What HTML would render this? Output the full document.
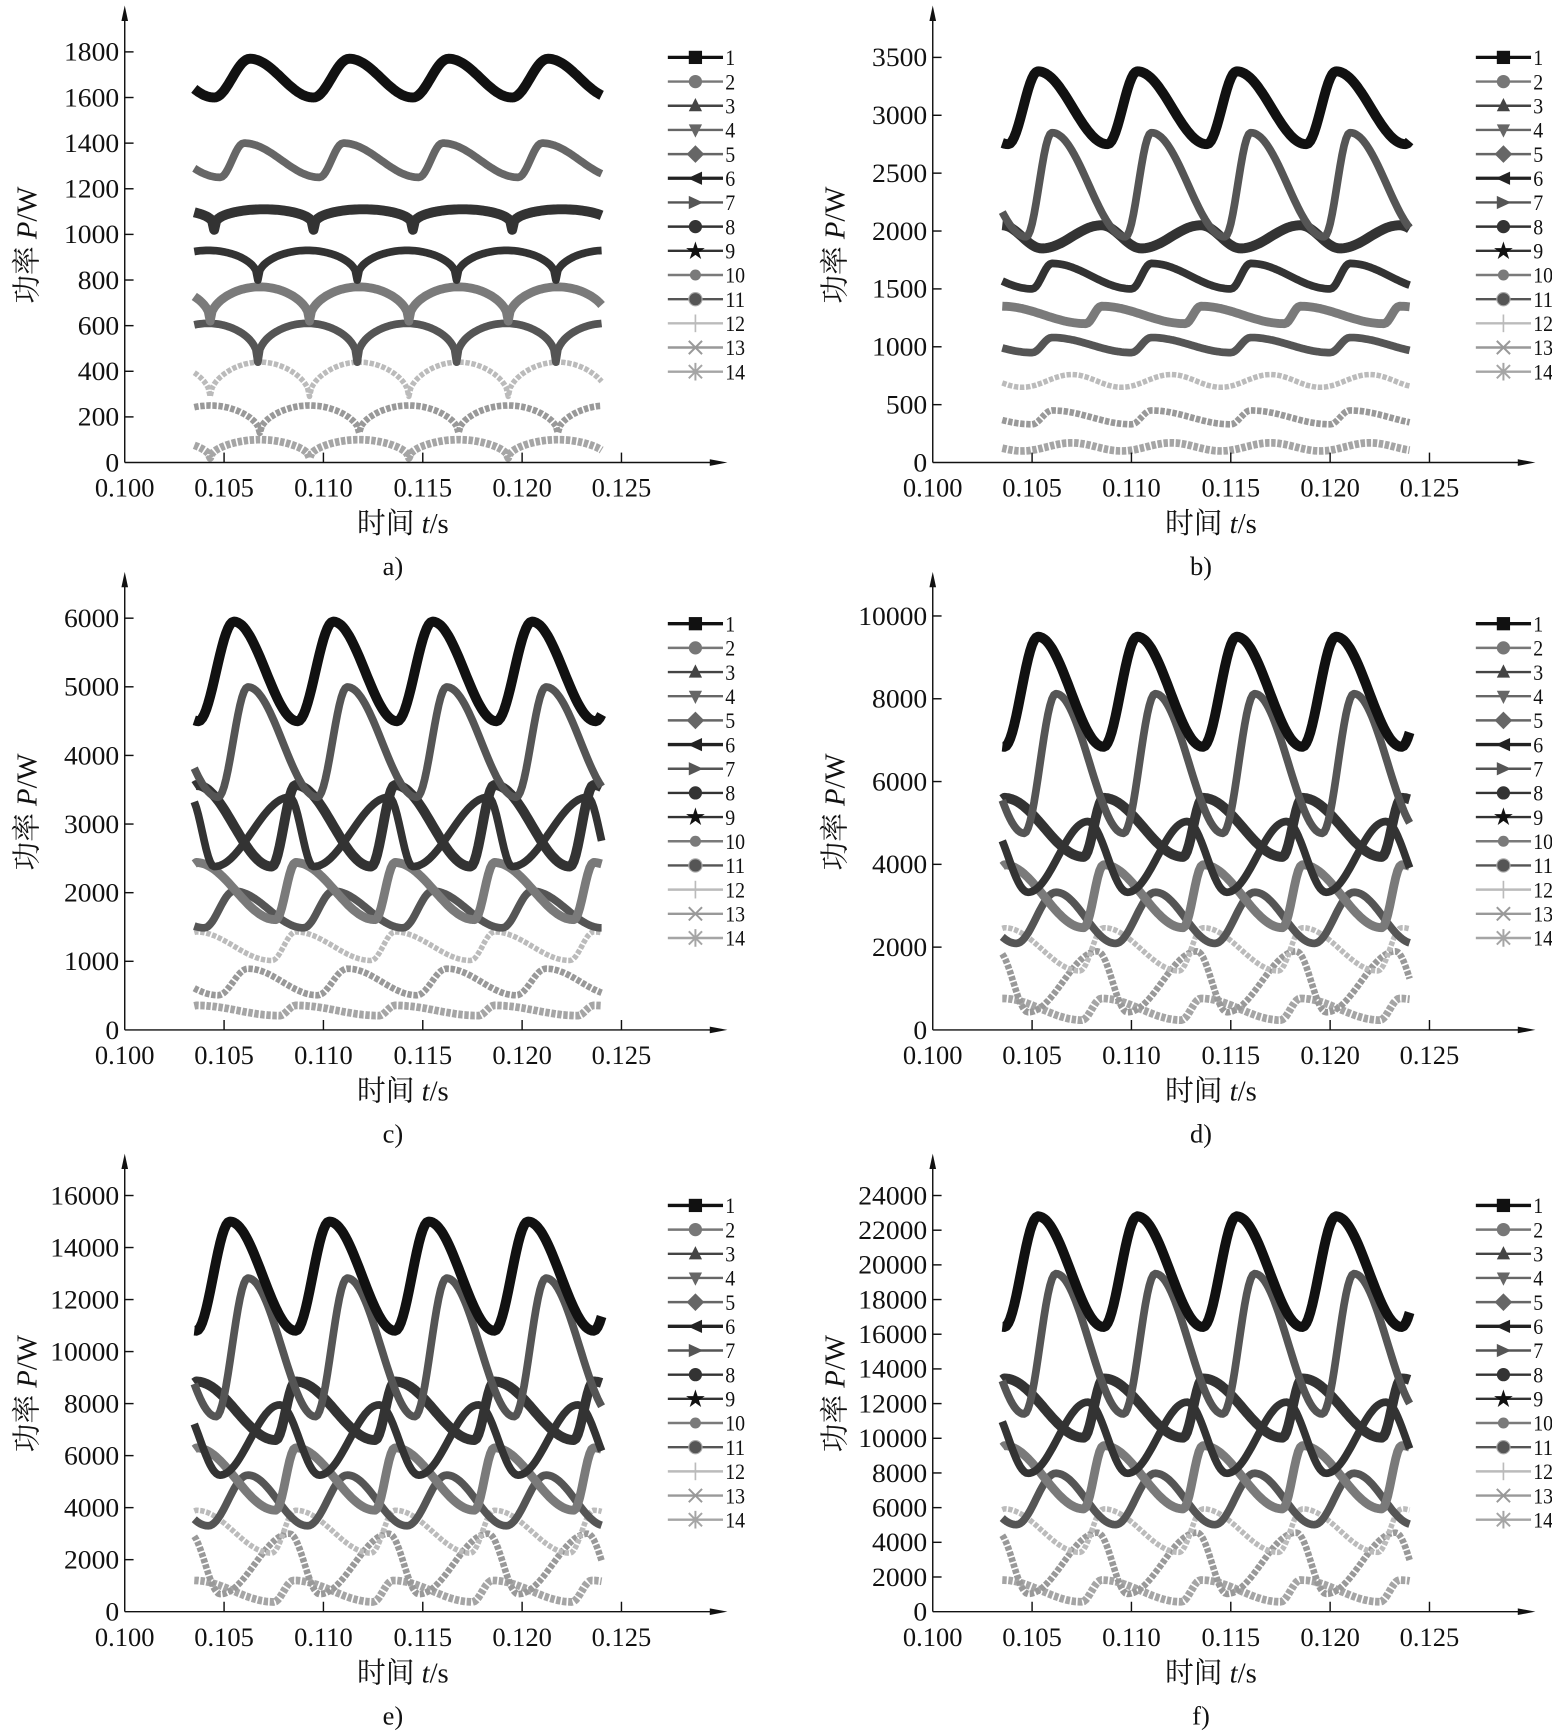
<!DOCTYPE html>
<html><head><meta charset="utf-8"><style>
html,body{margin:0;padding:0;background:#fff}
svg{display:block}
text{font-family:"Liberation Serif","Noto Serif CJK SC",serif;fill:#111}
</style></head><body>
<svg id="s" xmlns="http://www.w3.org/2000/svg" width="1552" height="1732" viewBox="0 0 1406 1569" preserveAspectRatio="none"></svg>
<script>
const S=document.getElementById('s');const NS='http://www.w3.org/2000/svg';
function el(tag,attrs,txt){const e=document.createElementNS(NS,tag);for(const k in attrs)e.setAttribute(k,attrs[k]);if(txt!==undefined)e.textContent=txt;S.appendChild(e);return e;}
const P=0.005;
function md(a,b){return ((a%b)+b)%b;}
function saw(t,s){const d=md(t-s.pk,P);const D=P-s.R;let f;
 if(d<D){f=(Math.cos(Math.PI*d/D)+1)/2;}else{const u=(d-D)/s.R;f=(1-Math.cos(Math.PI*u))/2;}
 return s.lo+(s.hi-s.lo)*f;}
function cusp(t,s){const ph=md(t-s.pk,P)/P;return s.lo+(s.hi-s.lo)*Math.pow(Math.sin(Math.PI*ph),s.e);}
const COL=['#111','#777','#444','#666','#666','#222','#555','#333','#333','#7a7a7a','#555','#bbb','#999','#a5a5a5'];
const WID=[9,7,7,7,7,8,7,9,7,8,7,5,6,7];
const idxMap={1:0,4:3,7:6,8:7,9:8,10:9,11:10,12:11,13:12,14:13};
function S_(n,lo,hi,pk,R,type,e){return {n,lo,hi,pk,R,type:type||'saw',e};}
const serA=[S_(1,1600,1770,.1063,.0018),S_(4,1250,1400,.1060,.0012),S_(8,1020,1110,.1045,0,'cusp',.3),S_(9,800,930,.1067,0,'cusp',.4),S_(10,620,770,.1093,0,'cusp',.45),S_(11,440,610,.1067,0,'cusp',.4),S_(12,290,440,.1093,0,'cusp',.5),S_(13,130,250,.1068,0,'cusp',.5),S_(14,20,100,.1093,0,'cusp',.5)];
const serB=[S_(1,2750,3380,.1053,.0015),S_(7,1950,2850,.1060,.0013),S_(8,1850,2050,.1035,.003),S_(9,1500,1720,.1060,.0010),S_(10,1200,1350,.1085,.0008),S_(11,950,1080,.1060,.001),S_(12,650,760,.1070,.0025),S_(13,330,450,.1060,.001),S_(14,100,170,.1070,.0025)];
const normC=[[1,.756,1,.1055,.0018],[7,.57,.84,.1062,.0015],[8,.40,.60,.1036,.0012],[9,.40,.57,.1083,.0038],[10,.27,.41,.1036,.001],[11,.25,.34,.1055,.0015],[12,.17,.24,.1086,.0012],[13,.085,.15,.1062,.0015],[14,.035,.06,.1086,.0008]];
const normF=[[1,.72,1,.1053,.0017],[7,.50,.855,.1062,.0016],[8,.44,.59,.1036,.0010],[9,.35,.53,.1078,.0030],[10,.26,.42,.1036,.0010],[11,.22,.35,.1062,.0020],[12,.15,.26,.1086,.0012],[13,.045,.2,.1083,.0035],[14,.025,.08,.1035,.001]];
function mk(norm,pk){return norm.map(a=>S_(a[0],a[1]*pk,a[2]*pk,a[3],a[4]));}
const panels=[
 {x0:113,y0:419,top:5,vmax:1800,ytop:47,step:200,ser:serA,lab:'a)'},
 {x0:845,y0:419,top:5,vmax:3500,ytop:52,step:500,ser:serB,lab:'b)'},
 {x0:113,y0:933,top:518,vmax:6000,ytop:560,step:1000,ser:mk(normC,5950),lab:'c)'},
 {x0:845,y0:933,top:518,vmax:10000,ytop:558,step:2000,ser:mk(normF,9500),lab:'d)'},
 {x0:113,y0:1460,top:1045,vmax:16000,ytop:1083,step:2000,ser:mk(normF,15000),lab:'e)'},
 {x0:845,y0:1460,top:1045,vmax:24000,ytop:1083,step:2000,ser:mk(normF,22800),lab:'f)'}];
for(const p of panels){
 const X=t=>p.x0+(t-0.1)*18000, Y=v=>p.y0-(v/p.vmax)*(p.y0-p.ytop);
 for(let k=p.ser.length-1;k>=0;k--){const s=p.ser[k];const i=idxMap[s.n];
  let d='';for(let t=0.1035;t<=0.12401;t+=0.0001){const v=s.type==='cusp'?cusp(t,s):saw(t,s);d+=(d?'L':'M')+X(t).toFixed(1)+' '+Y(v).toFixed(1);}
  el('path',{d,fill:'none',stroke:COL[i],'stroke-width':WID[i],'stroke-dasharray':i>=11?'4 1.5':'none','stroke-linejoin':'round'});}
 el('line',{x1:p.x0,y1:p.y0,x2:p.x0,y2:p.top+8,stroke:'#111','stroke-width':1.3});
 el('path',{d:`M${p.x0-3} ${p.top+14}L${p.x0} ${p.top}L${p.x0+3} ${p.top+14}Z`,fill:'#111'});
 el('line',{x1:p.x0,y1:p.y0,x2:p.x0+540,y2:p.y0,stroke:'#111','stroke-width':1.3});
 el('path',{d:`M${p.x0+530} ${p.y0-3}L${p.x0+546} ${p.y0}L${p.x0+530} ${p.y0+3}Z`,fill:'#111'});
 for(let v=0;v<=p.vmax;v+=p.step){const y=Y(v);if(v>0)el('line',{x1:p.x0,y1:y,x2:p.x0+8,y2:y,stroke:'#111','stroke-width':1.3});
  el('text',{x:p.x0-5,y:y+8,'font-size':24,'text-anchor':'end',textLength:(String(v).length*12.5),lengthAdjust:'spacingAndGlyphs'},String(v));}
 for(let j=0;j<=5;j++){const t=0.1+j*0.005,x=X(t);if(j>0)el('line',{x1:x,y1:p.y0,x2:x,y2:p.y0-9,stroke:'#111','stroke-width':1.3});
  el('text',{x:x,y:p.y0+31,'font-size':24,'text-anchor':'middle'},t.toFixed(3));}
 const cy=(p.y0+p.top)/2+10;
 el('text',{x:0,y:0,'font-size':26,'text-anchor':'middle',transform:`translate(${p.x0-80},${cy}) rotate(-90)`}).innerHTML='功率 <tspan font-style="italic">P</tspan>/W';
 el('text',{x:p.x0+252,y:p.y0+64,'font-size':26,'text-anchor':'middle'}).innerHTML='时间 <tspan font-style="italic">t</tspan>/s';
 el('text',{x:p.x0+243,y:p.y0+102,'font-size':24,'text-anchor':'middle'},p.lab);
 const lx=p.x0+492, ly=p.top+47;
 for(let i=0;i<14;i++){const y=ly+i*21.9;
  el('line',{x1:lx,y1:y,x2:lx+50,y2:y,stroke:COL[i],'stroke-width':i===0||i===5?3:2.2});
  const cx=lx+25,c=COL[i];
  if(i===0)el('rect',{x:cx-6,y:y-6,width:12,height:12,fill:c});
  else if(i===1||i===7||i===9||i===10)el('circle',{cx,cy:y,r:i===9?5:6,fill:c,stroke:i===10?'#aaa':'none','stroke-width':1});
  else if(i===2)el('path',{d:`M${cx-6} ${y+5}L${cx} ${y-7}L${cx+6} ${y+5}Z`,fill:c});
  else if(i===3)el('path',{d:`M${cx-6} ${y-5}L${cx} ${y+7}L${cx+6} ${y-5}Z`,fill:c});
  else if(i===4)el('path',{d:`M${cx-8} ${y}L${cx} ${y-8}L${cx+8} ${y}L${cx} ${y+8}Z`,fill:c});
  else if(i===5)el('path',{d:`M${cx+6} ${y-6}L${cx-7} ${y}L${cx+6} ${y+6}Z`,fill:c});
  else if(i===6)el('path',{d:`M${cx-6} ${y-6}L${cx+7} ${y}L${cx-6} ${y+6}Z`,fill:c});
  else if(i===8)el('text',{x:cx,y:y+6,'font-size':18,'text-anchor':'middle',fill:c},'★');
  else if(i===11)el('line',{x1:cx,y1:y-8,x2:cx,y2:y+8,stroke:c,'stroke-width':1.5});
  else if(i===12)el('path',{d:`M${cx-6} ${y-6}L${cx+6} ${y+6}M${cx+6} ${y-6}L${cx-6} ${y+6}`,stroke:c,'stroke-width':1.8});
  else el('path',{d:`M${cx-6} ${y-6}L${cx+6} ${y+6}M${cx+6} ${y-6}L${cx-6} ${y+6}M${cx} ${y-8}L${cx} ${y+8}`,stroke:c,'stroke-width':1.8});
  const s=String(i+1);
  el('text',{x:lx+52,y:y+7,'font-size':20,textLength:s.length*9,lengthAdjust:'spacingAndGlyphs'},s);}
}
</script>
</body></html>
